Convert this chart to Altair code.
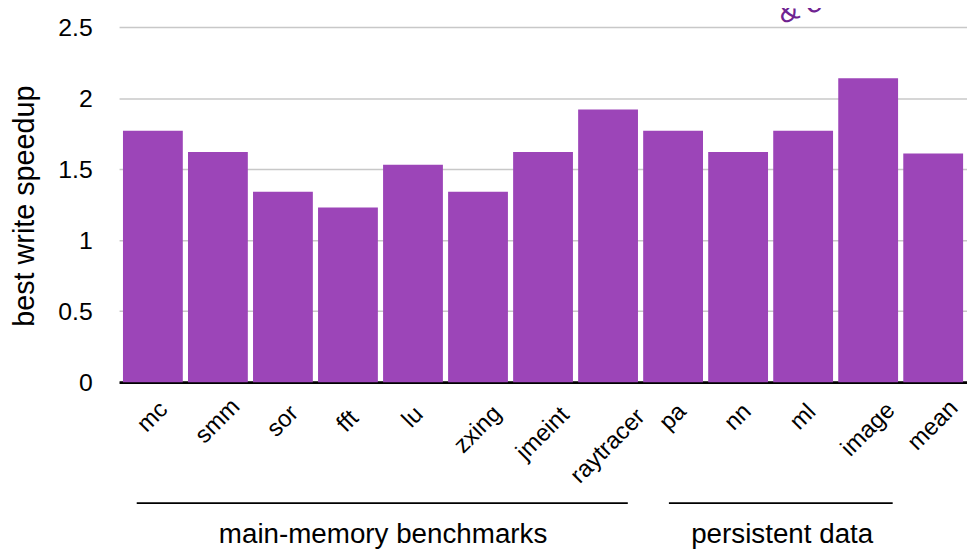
import altair as alt
import pandas as pd

categories = ["mc", "smm", "sor", "fft", "lu", "zxing", "jmeint", "raytracer",
              "pa", "nn", "ml", "image", "mean"]
speedups = [1.77, 1.62, 1.34, 1.23, 1.53, 1.34, 1.62, 1.92,
            1.77, 1.62, 1.77, 2.14, 1.61]

group_names = ["main-memory benchmarks", "persistent data"]
group_first = ["mc", "pa"]
group_last = ["raytracer", "image"]
group_mid = ["lu", "ml"]

FONT = "Liberation Sans"
BAR = "#9c45b8"

df = pd.DataFrame({"benchmark": categories, "speedup": speedups})
xscale = alt.Scale(domain=categories, paddingInner=0.08, paddingOuter=0.06)

bars = alt.Chart(df).mark_bar(color=BAR).encode(
    x=alt.X("benchmark:N", scale=xscale, sort=categories, title=None,
            axis=alt.Axis(labels=False, ticks=False, domainColor="black",
                          domainWidth=3, grid=False)),
    y=alt.Y("speedup:Q", scale=alt.Scale(domain=[0, 2.5], nice=False),
            title="best write speedup",
            axis=alt.Axis(values=[0, 0.5, 1, 1.5, 2, 2.5], format="~g",
                          labelFontSize=25, labelFont=FONT, labelColor="black",
                          labelPadding=27, ticks=False, domain=False,
                          gridColor="#c8c8c8", gridWidth=1.5,
                          titleFont=FONT, titleFontSize=29, titleFontWeight="normal",
                          titleColor="black", titleX=-95, titleY=180,
                          titleAngle=-90, titleAlign="center", titleBaseline="middle")),
)

# category labels: rotated, centred on each bar, tops aligned just below the axis
labels = alt.Chart(df).transform_calculate(
    ly="385 + 4.2 * length(datum.benchmark)"
).mark_text(font=FONT, fontSize=24, color="black", align="center",
            baseline="middle", angle=315).encode(
    x=alt.X("benchmark:N", scale=xscale, title=None),
    y=alt.Y("ly:Q", scale=None, axis=None),
    text="benchmark:N",
)

layers = [bars, labels]
band_starts = [0.23, 0.43]
band_ends = [0.83, 0.91]
band_mids = [0.0, 0.15]
for i, name in enumerate(group_names):
    gdf = pd.DataFrame({"group": [name], "first": [group_first[i]],
                        "last": [group_last[i]], "mid": [group_mid[i]]})
    rule = alt.Chart(gdf).mark_rule(color="black", strokeWidth=2).encode(
        x=alt.X("first:N", scale=xscale, bandPosition=band_starts[i], title=None),
        x2=alt.X2("last:N", bandPosition=band_ends[i]),
        y=alt.value(480),
    )
    txt = alt.Chart(gdf).mark_text(font=FONT, fontSize=28, color="black",
                                   align="center", baseline="alphabetic").encode(
        x=alt.X("mid:N", scale=xscale, bandPosition=band_mids[i], title=None),
        y=alt.value(520),
        text="group:N",
    )
    layers += [rule, txt]

anno_df = pd.DataFrame({"anchor": ["ml"], "label": ["& energy"]})
anno = alt.Chart(anno_df).mark_text(font=FONT, fontSize=30, color="#6f2391",
                                    align="left", baseline="alphabetic", angle=340).encode(
    x=alt.X("anchor:N", scale=xscale, bandPosition=0.15, title=None),
    y=alt.value(-3),
    text="label:N",
)
layers.append(anno)

chart = alt.layer(*layers).properties(
    width=855, height=358,
    padding={"left": 112, "top": 17, "right": 0, "bottom": 166},
    autosize=alt.AutoSizeParams(type="none"),
    background="white",
).configure_view(stroke=None)

chart.save("out.html", embed_options={"renderer": "svg", "actions": False})
